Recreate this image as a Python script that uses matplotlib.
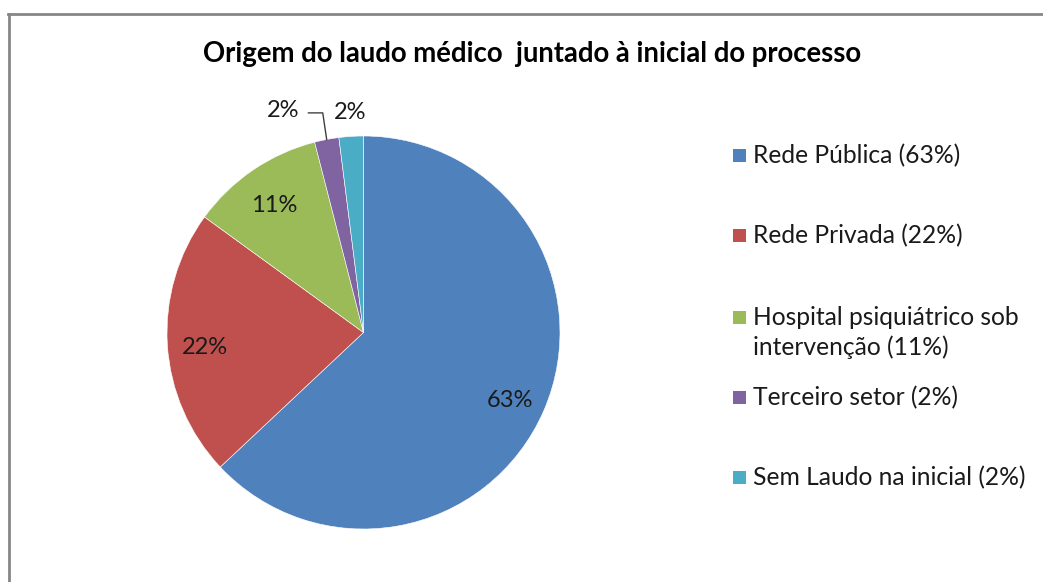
import numpy as np
import matplotlib.pyplot as plt
from matplotlib.patches import Rectangle
from matplotlib.lines import Line2D

plt.rcParams['font.family'] = ['Lato', 'DejaVu Sans']

# dados
categorias = ['Rede Pública (63%)', 'Rede Privada (22%)',
              'Hospital psiquiátrico sob\nintervenção (11%)',
              'Terceiro setor (2%)', 'Sem Laudo na inicial (2%)']
valores = [63, 22, 11, 2, 2]
rotulos = ['63%', '22%', '11%', '2%', '2%']
cores = ['#4F81BD', '#C0504D', '#9BBB59', '#8064A2', '#4BACC6']
titulo = 'Origem do laudo médico  juntado à inicial do processo'

W, H = 1043, 582
fig = plt.figure(figsize=(W / 100, H / 100), dpi=100)
tcor = '#1a1a1a'

# moldura (só esquerda e topo aparecem)
cinza = '#868686'
fig.add_artist(Line2D([8.5 / W, 8.5 / W], [0, 1 - 13.5 / H], color=cinza, lw=2,
                      transform=fig.transFigure))
fig.add_artist(Line2D([7.5 / W, 1], [1 - 13.5 / H, 1 - 13.5 / H], color=cinza, lw=2,
                      transform=fig.transFigure))

# pizza
cx, cy, r = 363.5 / W, 1 - 332.5 / H, 196.5
ax = fig.add_axes([cx - r / W, cy - r / H, 2 * r / W, 2 * r / H])
wedges, _ = ax.pie(valores, colors=cores, startangle=90, counterclock=False,
                   wedgeprops=dict(edgecolor='white', linewidth=0.4))
ax.set_xlim(-1, 1)
ax.set_ylim(-1, 1)
ax.set_aspect('equal')

fs = 17
for i, w in enumerate(wedges):
    meio = np.deg2rad((w.theta1 + w.theta2) / 2)
    if valores[i] >= 5:
        d = 0.81
        ax.text(d * np.cos(meio), d * np.sin(meio) - 0.025, rotulos[i], ha='center',
                va='center', fontsize=fs, color=tcor)
    elif i == 3:
        ang = np.deg2rad(110)
        tx, ty = 1.2 * np.cos(ang), 1.2 * np.sin(ang)
        ax.text(tx, ty, rotulos[i], ha='center', va='center', fontsize=fs,
                color=tcor, clip_on=False)
        ex, ey = np.cos(meio), np.sin(meio)
        ax.plot([tx + 0.13, ex - 0.02, ex], [ty - 0.01, ty - 0.01, ey], color='#404040',
                lw=1, clip_on=False)
    else:
        d = 1.12
        ax.text(d * np.cos(meio), d * np.sin(meio), rotulos[i], ha='center', va='center',
                fontsize=fs, color=tcor, clip_on=False)

# titulo
fig.text(532 / W, 1 - 62 / H, titulo, ha='center', va='baseline', fontsize=19.8,
         fontweight='bold', color='black')

# legenda (linha de base de cada linha do texto)
bases = [163, 243, 325, 405, 485]
for cat, cor, b in zip(categorias, cores, bases):
    fig.add_artist(Rectangle((733 / W, 1 - (b - 1) / H), 13 / W, 13 / H, facecolor=cor,
                             edgecolor='none', transform=fig.transFigure))
    for k, linha in enumerate(cat.split('\n')):
        fig.text(753 / W, 1 - (b + 30 * k) / H, linha, ha='left', va='baseline',
                 fontsize=17.7, color=tcor)

fig.savefig('out.png', dpi=100)
